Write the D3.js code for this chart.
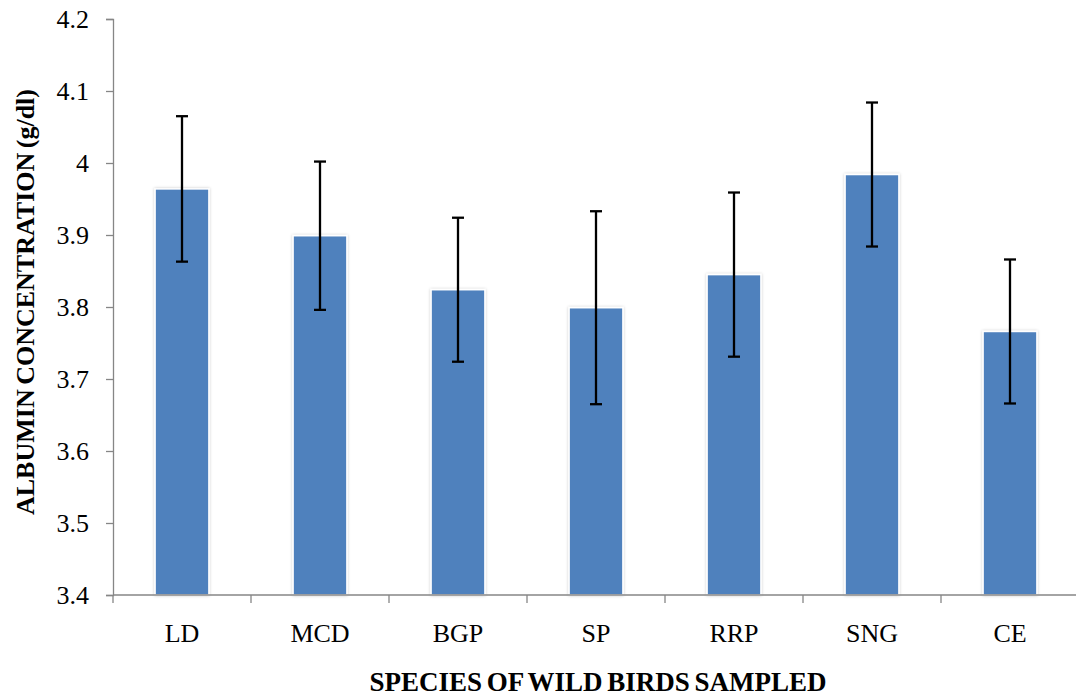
<!DOCTYPE html>
<html>
<head>
<meta charset="utf-8">
<script src="https://cdn.jsdelivr.net/npm/d3@7"></script>
<style>
  html, body { margin: 0; padding: 0; background: #fff; }
  svg { display: block; }
  text { font-family: "Liberation Serif", "Times New Roman", serif; fill: #000; }
</style>
</head>
<body>
<svg id="chart" width="1076" height="697"></svg>
<script>
// Albumin concentration by bird species (mean ± error)
const species = ["LD", "MCD", "BGP", "SP", "RRP", "SNG", "CE"];
const albumin = [3.964, 3.899, 3.824, 3.799, 3.845, 3.984, 3.766];
const errors  = [0.101, 0.103, 0.100, 0.134, 0.114, 0.100, 0.100];
const yTicks  = [3.4, 3.5, 3.6, 3.7, 3.8, 3.9, 4.0, 4.1, 4.2];

const svg = d3.select("#chart");
const plotLeft = 113, plotRight = 1079, plotTop = 19, plotBottom = 595;
const serif = "Liberation Serif, Times New Roman, serif";

const x = d3.scaleBand().domain(species).range([plotLeft, plotRight])
  .paddingInner(0.61).paddingOuter(0.305);
const y = d3.scaleLinear().domain([3.4, 4.2]).range([plotBottom, plotTop]);

// soft shadow behind the bars
const defs = svg.append("defs");
const f = defs.append("filter").attr("id", "shadow")
  .attr("x", "-30%").attr("y", "-10%").attr("width", "160%").attr("height", "120%");
f.append("feGaussianBlur").attr("in", "SourceAlpha").attr("stdDeviation", 1.6).attr("result", "b");
f.append("feFlood").attr("flood-color", "#000").attr("flood-opacity", 0.22).attr("result", "c");
f.append("feComposite").attr("in", "c").attr("in2", "b").attr("operator", "in").attr("result", "s");
const m = f.append("feMerge");
m.append("feMergeNode").attr("in", "s");
m.append("feMergeNode").attr("in", "SourceGraphic");

// bars
svg.append("g").selectAll("rect").data(species).join("rect")
  .attr("x", d => x(d))
  .attr("y", (d, i) => y(albumin[i]))
  .attr("width", x.bandwidth())
  .attr("height", (d, i) => y(3.4) - y(albumin[i]))
  .attr("fill", "#4F81BD")
  .attr("stroke", "#fff")
  .attr("stroke-width", 1.5)
  .attr("filter", "url(#shadow)");

// y axis
const yAxis = d3.axisLeft(y).tickValues(yTicks).tickSize(7).tickPadding(17)
  .tickFormat(d => d === 4 ? "4" : d3.format(".1f")(d));
const gy = svg.append("g").attr("transform", `translate(${plotLeft},0)`).call(yAxis)
  .attr("font-family", serif).attr("font-size", 26);
gy.select(".domain").attr("stroke", "#868686").attr("stroke-width", 1.3);
gy.selectAll(".tick line").attr("stroke", "#868686").attr("stroke-width", 1.3);
gy.selectAll(".tick text").attr("fill", "#000").attr("dy", "0.34em");

// x axis (ticks at category boundaries)
const gx = svg.append("g").attr("transform", `translate(0,${plotBottom})`);
gx.append("line").attr("x1", plotLeft).attr("x2", plotRight).attr("y1", 0).attr("y2", 0)
  .attr("stroke", "#868686").attr("stroke-width", 1.3);
const bounds = species.map((d, i) => plotLeft + i * x.step());
gx.selectAll("line.tk").data(bounds).join("line").attr("class", "tk")
  .attr("x1", d => d).attr("x2", d => d).attr("y1", 0).attr("y2", 8)
  .attr("stroke", "#868686").attr("stroke-width", 1.3);
gx.selectAll("text").data(species).join("text")
  .attr("x", d => x(d) + x.bandwidth() / 2)
  .attr("y", 47)
  .attr("text-anchor", "middle")
  .style("font-size", "26px")
  .text(d => d);

// error bars
const eb = svg.append("g").attr("stroke", "#000").attr("stroke-width", 2.3);
species.forEach((d, i) => {
  const cx = x(d) + x.bandwidth() / 2;
  const y1 = y(albumin[i] + errors[i]), y2 = y(albumin[i] - errors[i]);
  eb.append("line").attr("x1", cx).attr("x2", cx).attr("y1", y1).attr("y2", y2);
  eb.append("line").attr("x1", cx - 6).attr("x2", cx + 6).attr("y1", y1).attr("y2", y1);
  eb.append("line").attr("x1", cx - 6).attr("x2", cx + 6).attr("y1", y2).attr("y2", y2);
});

// axis titles
svg.append("text")
  .attr("x", 598).attr("y", 691)
  .attr("text-anchor", "middle")
  .style("font-size", "27px").style("font-weight", "bold")
  .style("word-spacing", "-2px")
  .text("SPECIES OF WILD BIRDS SAMPLED");

svg.append("text")
  .attr("transform", "translate(34,302) rotate(-90)")
  .attr("text-anchor", "middle")
  .style("font-size", "26px").style("font-weight", "bold")
  .style("word-spacing", "-2px")
  .text("ALBUMIN CONCENTRATION (g/dl)");
</script>
</body>
</html>
